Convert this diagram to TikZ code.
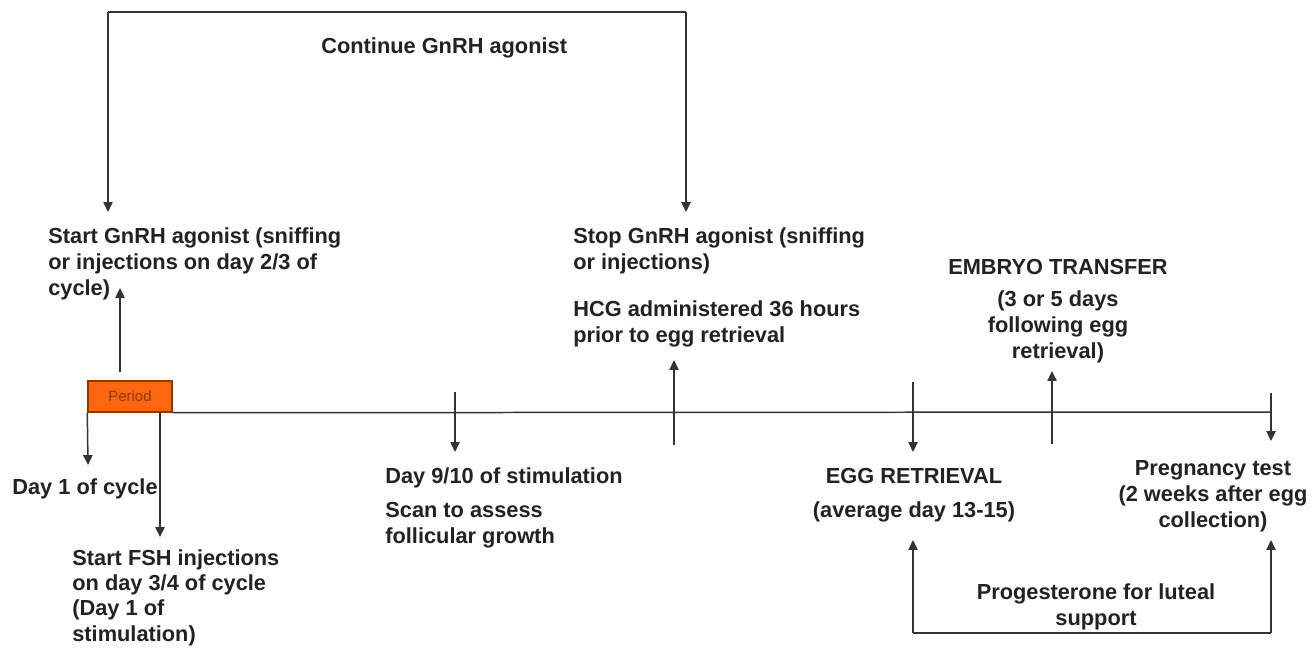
\documentclass[tikz,border=0pt]{standalone}
\usepackage{fontspec}
\setmainfont{Liberation Sans}
\usepackage{xcolor}
\usetikzlibrary{arrows.meta,positioning,calc}

\definecolor{inkgray}{HTML}{222222}
\definecolor{linegray}{HTML}{333333}
\definecolor{periodfill}{HTML}{FF660F}
\definecolor{periodedge}{HTML}{8A3A0A}

\begin{document}
\begin{tikzpicture}[
  x=0.02cm, y=-0.02cm,
  >={Triangle[length=5.6pt,width=5.2pt]},
  txt/.style    = {inner sep=0pt, align=left, text=inkgray,
                   font=\fontsize{12.4}{14.8}\selectfont\bfseries},
  ctxt/.style   = {txt, align=center},
  period/.style = {rectangle, draw=periodedge, fill=periodfill, line width=0.8pt,
                   minimum width=1.68cm, minimum height=0.62cm, inner sep=0pt,
                   text=periodedge, font=\fontsize{8.5}{10}\selectfont},
  arr/.style    = {->, line width=0.85pt, draw=linegray},
  axis/.style   = {line width=0.85pt, draw=linegray}
]
\useasboundingbox (0,0) rectangle (1314,647);

%%% ---- TIMELINE ----
\node[period] (period) at (130,396.5) {Period};
\coordinate (tend) at (1271,412);
\draw[axis] (period.south east) -- (tend);

%%% ---- TEXTS ABOVE THE LINE ----
% (base anchor = baseline of the last line)
\node[txt,anchor=base west] (cont) at (321,53) {Continue GnRH agonist};
\node[txt,anchor=base west] (startgn) at (48,295)
  {Start GnRH agonist (sniffing\\or injections on day 2/3 of\\cycle)};
\node[txt,anchor=base west] (stopgn) at (573,269)
  {Stop GnRH agonist (sniffing\\or injections)};
\node[txt,anchor=base west] (hcg) at (573,342)
  {HCG administered 36 hours\\prior to egg retrieval};
\node[ctxt,anchor=base] (embryo) at (1058,358)
  {EMBRYO TRANSFER\\[3pt](3 or 5 days\\following egg\\retrieval)};

%%% ---- TEXTS BELOW THE LINE ----
\node[txt,anchor=base west] (day1) at (12,494) {Day 1 of cycle};
\node[txt,anchor=base west,font=\fontsize{12.4}{14.4}\selectfont\bfseries]
  (fsh) at (72,641)
  {Start FSH injections\\on day 3/4 of cycle\\(Day 1 of\\stimulation)};
\node[txt,anchor=base west] (day9) at (385,483) {Day 9/10 of stimulation};
\node[txt,anchor=base west] (scan) at (385,543) {Scan to assess\\follicular growth};
\node[ctxt,anchor=base] (egg) at (914,517)
  {EGG RETRIEVAL\\[4pt](average day 13-15)};
\node[ctxt,anchor=base] (preg) at (1213,527)
  {Pregnancy test\\(2 weeks after egg\\collection)};
\node[ctxt,anchor=base] (prog) at (1096,625)
  {Progesterone for luteal\\support};

%%% ---- POINTS ----
\coordinate (topL)  at (108,12);
\coordinate (topR)  at (686,12);
\coordinate (gnA)   at (108,212);
\coordinate (gnB)   at (686,212);
\coordinate (upA)   at (120,372);
\coordinate (upAt)  at (120,288);
\coordinate (d1)    at (88,465);
\coordinate (fshA)  at (160,537);
\coordinate (scA)   at (455,392);
\coordinate (scB)   at (455,452);
\coordinate (hcA)   at (674,445);
\coordinate (hcB)   at (674,360);
\coordinate (egA)   at (913,382);
\coordinate (egB)   at (913,452);
\coordinate (emA)   at (1052,444);
\coordinate (emB)   at (1052,371);
\coordinate (pgA)   at (1271,393);
\coordinate (pgB)   at (1271,441);
\coordinate (botL)  at (913,633);
\coordinate (botR)  at (1271,633);
\coordinate (botLt) at (913,540);
\coordinate (botRt) at (1271,540);

%%% ---- ARROWS ----
\draw[axis] (topL) -- (topR);
\draw[arr] (topL) -- (gnA);
\draw[arr] (topR) -- (gnB);
\draw[arr] (upA) -- (upAt);
\draw[arr] (period.south west) -- (d1);
\draw[arr] (period.south east -| fshA) -- (fshA);
\draw[arr] (scA) -- (scB);
\draw[arr] (hcA) -- (hcB);
\draw[arr] (egA) -- (egB);
\draw[arr] (emA) -- (emB);
\draw[arr] (pgA) -- (pgB);
\draw[axis] (botL) -- (botR);
\draw[arr] (botL) -- (botLt);
\draw[arr] (botR) -- (botRt);
\end{tikzpicture}
\end{document}
